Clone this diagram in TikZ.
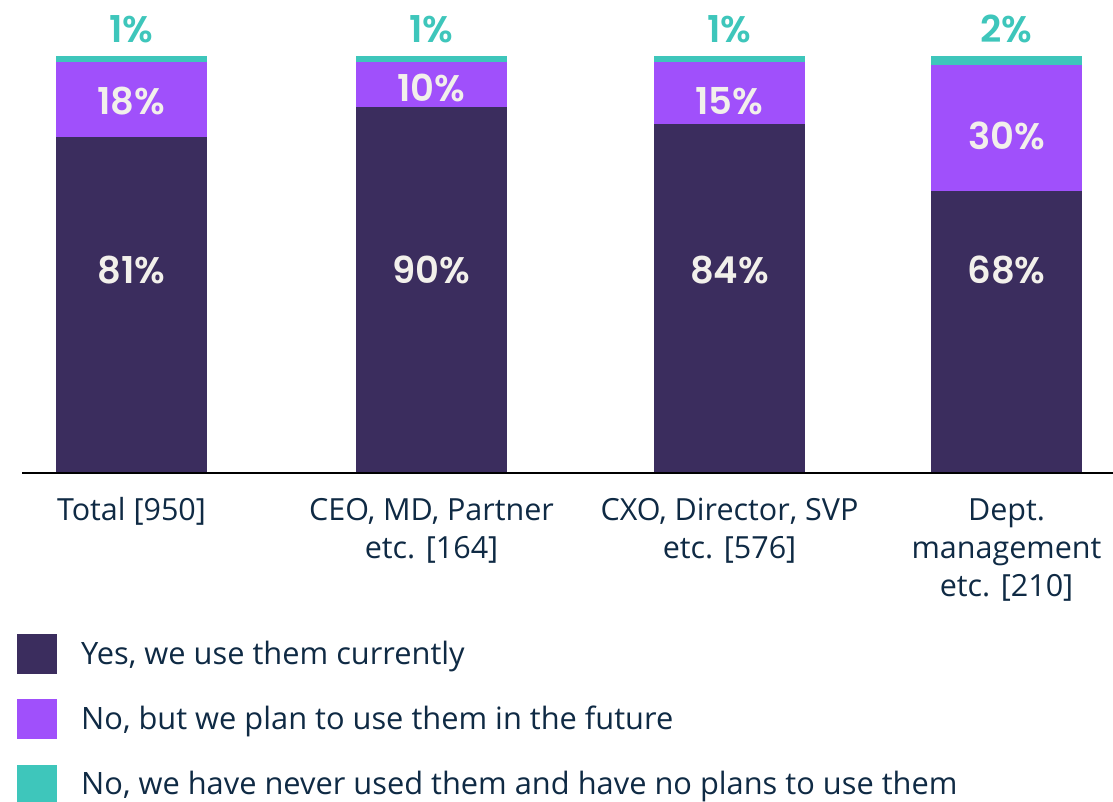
\documentclass[tikz,border=0pt]{standalone}
\usepackage{fontspec}
\setmainfont{Open Sans}
\newfontfamily\pctfont{Poppins}[UprightFont=*-SemiBold]
\definecolor{cdark}{HTML}{3B2D5E}
\definecolor{cpurple}{HTML}{A050FB}
\definecolor{cteal}{HTML}{3EC6BB}
\definecolor{ctext}{HTML}{0F2A44}
\definecolor{cwhite}{HTML}{F2F0EB}
\tikzset{
  inlbl/.style={font=\pctfont\fontsize{37}{40}\selectfont, text=cwhite, inner sep=0pt},
  toplbl/.style={font=\pctfont\fontsize{37}{40}\selectfont, text=cteal, inner sep=0pt},
  catlbl/.style={font=\fontsize{30.5}{38}\selectfont, text=ctext, inner sep=0pt, anchor=base},
  leglbl/.style={font=\fontsize{30.8}{38}\selectfont, text=ctext, inner sep=0pt, anchor=base west},
}
\begin{document}
\begin{tikzpicture}[x=1pt,y=-1pt]
\useasboundingbox (0,0) rectangle (1113,801);
% bar 1
\fill[cteal]   (56,56) rectangle (207,62);
\fill[cpurple] (56,62) rectangle (207,137);
\fill[cdark]   (56,137) rectangle (207,473);
% bar 2
\fill[cteal]   (356,56) rectangle (507,62);
\fill[cpurple] (356,62) rectangle (507,107);
\fill[cdark]   (356,107) rectangle (507,473);
% bar 3
\fill[cteal]   (654,56) rectangle (805,62);
\fill[cpurple] (654,62) rectangle (805,124);
\fill[cdark]   (654,124) rectangle (805,473);
% bar 4
\fill[cteal]   (931,56) rectangle (1082,65);
\fill[cpurple] (931,65) rectangle (1082,191);
\fill[cdark]   (931,191) rectangle (1082,473);
% axis
\draw[line width=2.5pt, black] (22,473) -- (1113,473);
% labels in bars
\node[inlbl] (d1) at (131.5,270) {81\%};
\node[inlbl] (d2) at (431.5,270) {90\%};
\node[inlbl] (d3) at (729.5,270) {84\%};
\node[inlbl] (d4) at (1006.5,270) {68\%};
\node[inlbl] (p1) at (131.5,101) {18\%};
\node[inlbl] (p2) at (431.5,87.5) {10\%};
\node[inlbl] (p3) at (729.5,101) {15\%};
\node[inlbl] (p4) at (1006.5,136) {30\%};
\node[toplbl] (t1) at (131.5,29) {1\%};
\node[toplbl] (t2) at (431.5,29) {1\%};
\node[toplbl] (t3) at (729.5,29) {1\%};
\node[toplbl] (t4) at (1006.5,29) {2\%};
% category labels
\node[catlbl] (c1a) at (131.5,520) {Total [950]};
\node[catlbl] (c2a) at (431.5,520) {CEO, MD, Partner};
\node[catlbl] (c2b) at (431.5,558) {etc. [164]};
\node[catlbl] (c3a) at (729.5,520) {CXO, Director, SVP};
\node[catlbl] (c3b) at (729.5,558) {etc. [576]};
\node[catlbl] (c4a) at (1006.5,520) {Dept.};
\node[catlbl] (c4b) at (1006.5,558) {management};
\node[catlbl] (c4c) at (1006.5,596) {etc. [210]};
% legend
\fill[cdark]   (17,634) rectangle (57,674);
\fill[cpurple] (17,699) rectangle (57,739);
\fill[cteal]   (17,765) rectangle (57,805);
\node[leglbl] (l1) at (81,664) {Yes, we use them currently};
\node[leglbl] (l2) at (81,729) {No, but we plan to use them in the future};
\node[leglbl] (l3) at (81,794) {No, we have never used them and have no plans to use them};
\end{tikzpicture}
\end{document}
